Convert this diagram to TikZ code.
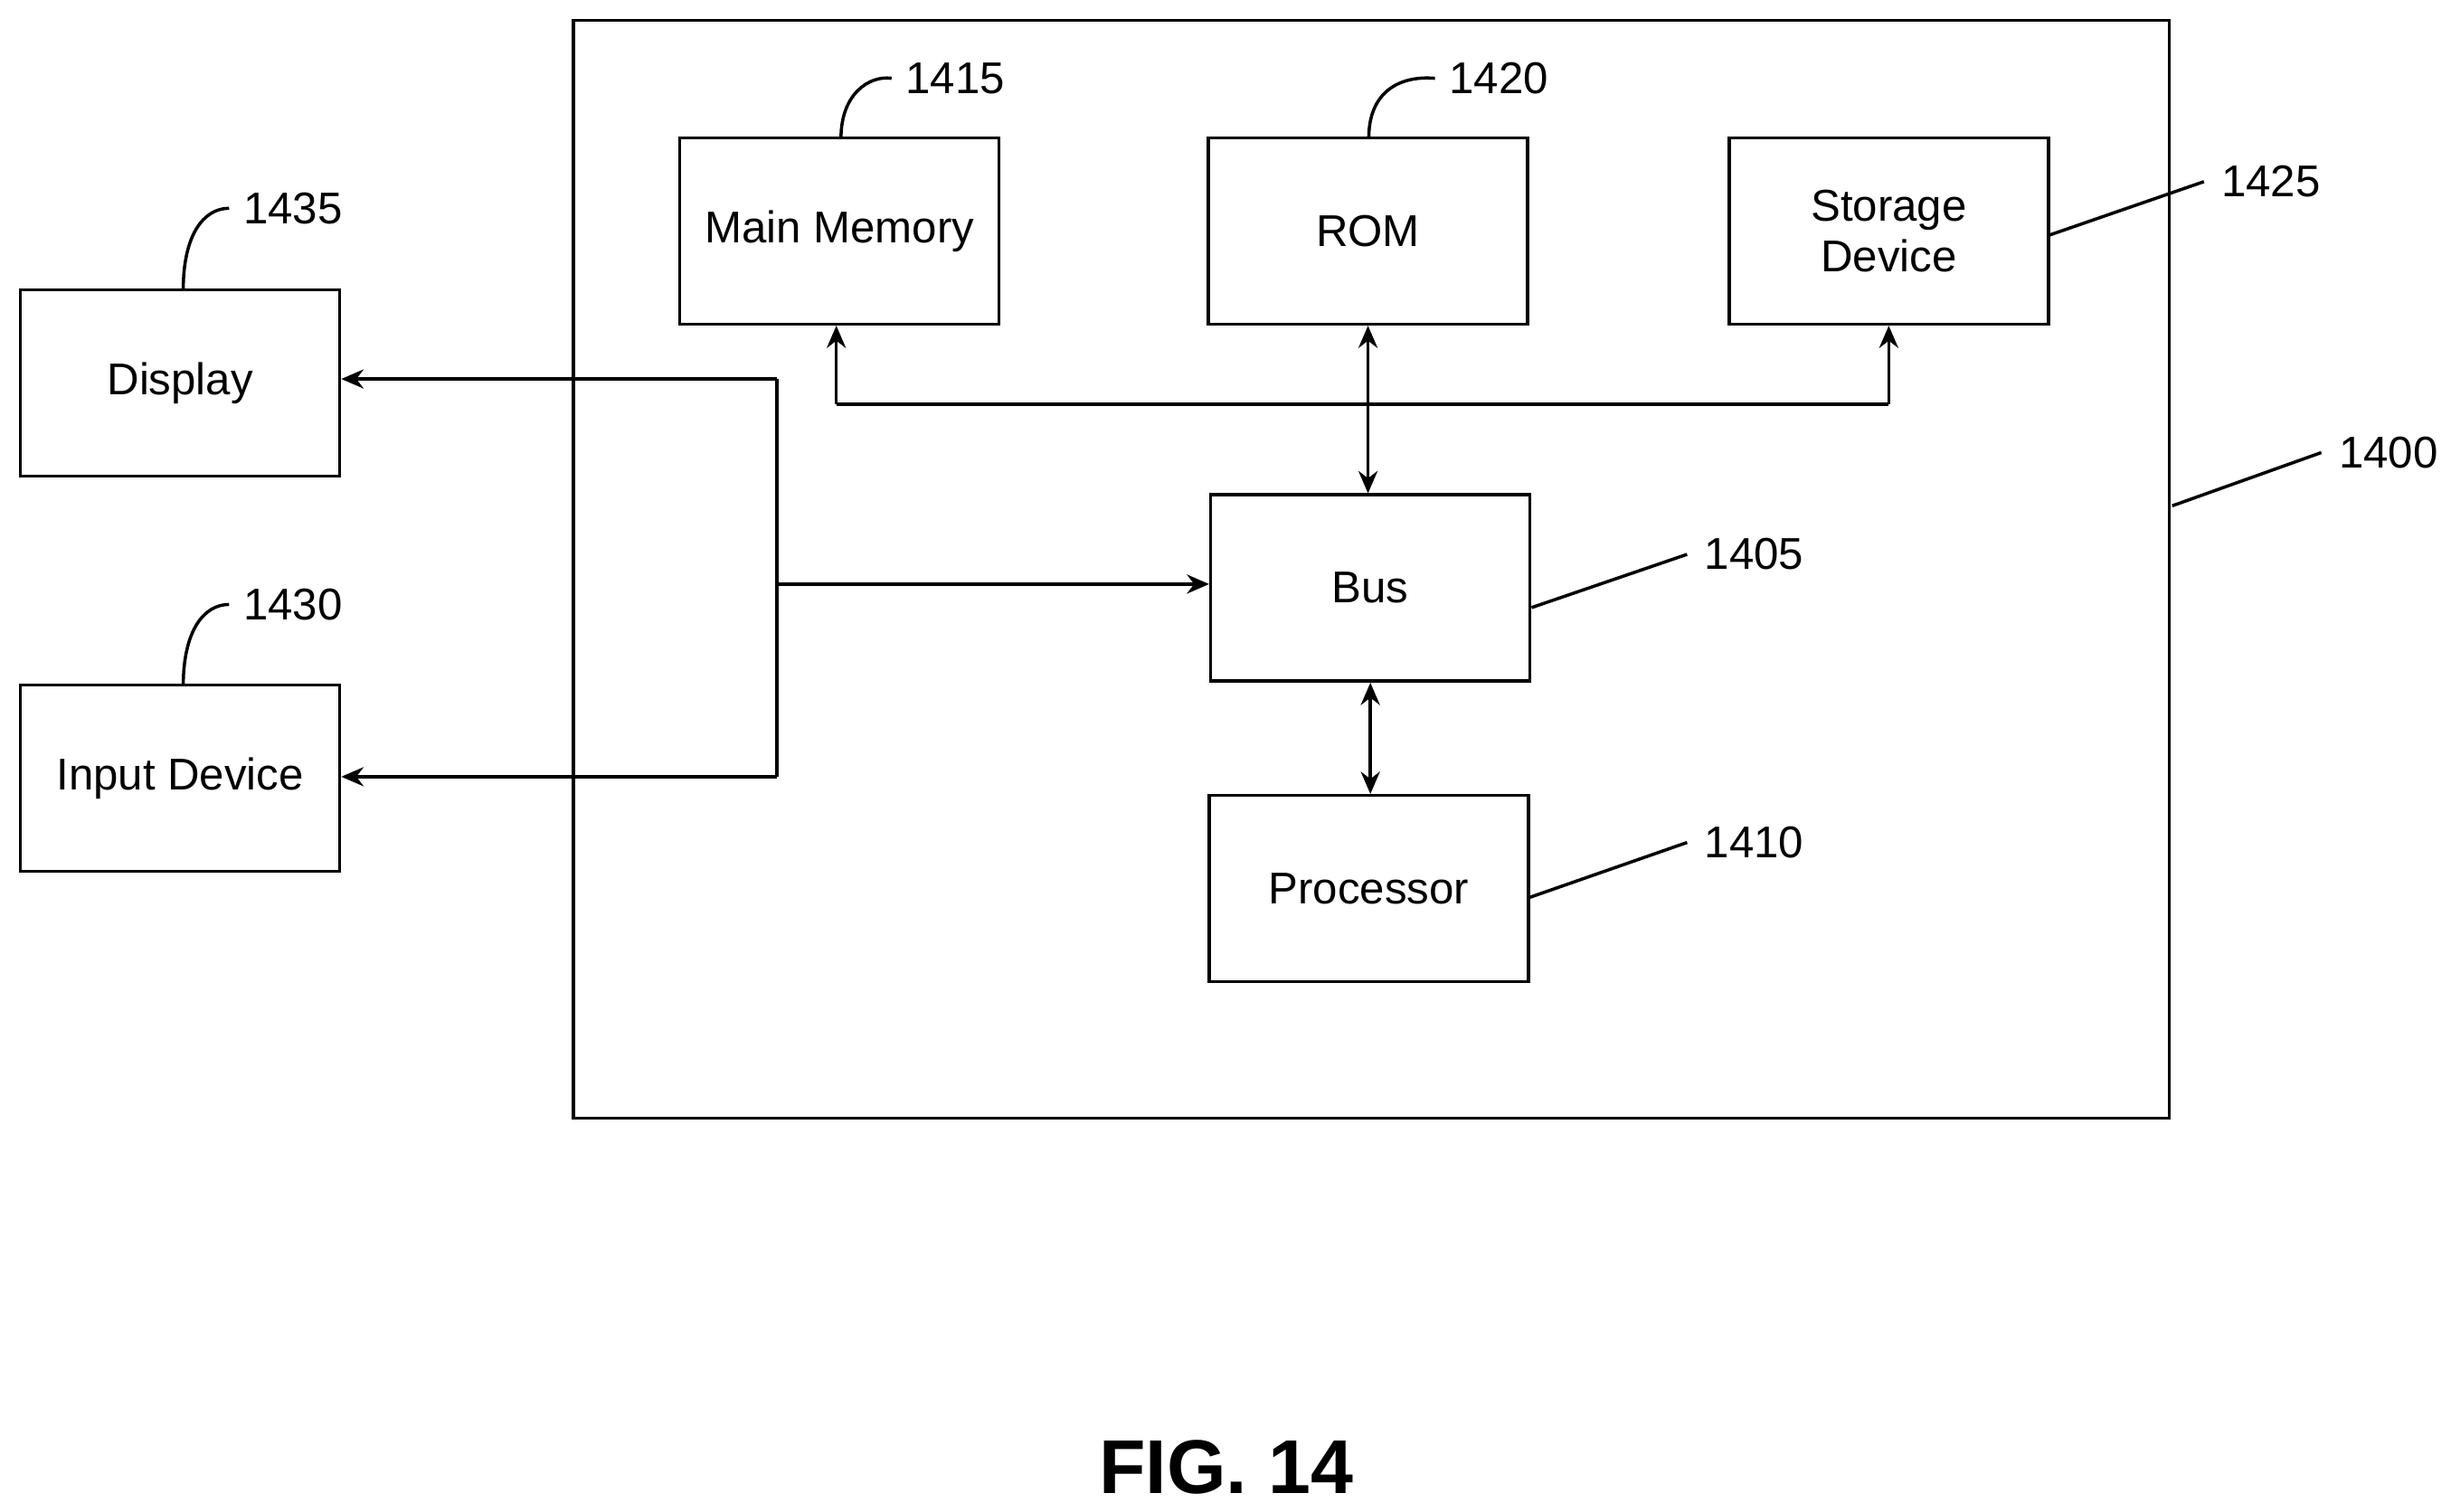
\documentclass[tikz,border=0pt]{standalone}
\usepackage{fontspec}
\setmainfont{Liberation Sans}
\usepackage{tikz}
\usetikzlibrary{arrows.meta}
\tikzset{box/.style={draw,line width=1pt,minimum width=3.53cm,minimum height=2.06cm,inner sep=0pt,align=center,font=\fontsize{14}{16}\selectfont},
	num/.style={font=\fontsize{14}{16}\selectfont,inner sep=1pt}}
\begin{document}
\begin{tikzpicture}[>={Stealth[length=7pt,width=6pt]},x=0.01732cm,y=-0.01732cm,line width=1pt]
			\useasboundingbox (0,0) rectangle (1565,965);
			\draw (366,13) rectangle (1385,714);
			\node[box] (mem) at (536,147.5) {Main Memory};
			\node[box] (rom) at (873.5,147.5) {ROM};
			\node[box] (sto) at (1206,147.5) {Storage\\Device};
			\node[box] (bus) at (875,375.5) {Bus};
			\node[box] (cpu) at (874,567.5) {Processor};
			\node[box] (dsp) at (115,244.5) {Display};
			\node[box] (inp) at (115,497) {Input Device};
			% bus lines
			\coordinate (jl) at (534,258);
			\coordinate (jr) at (1206,258);
			\draw[->] (jl) -- (mem.south -| jl);
			\draw[->] (jr) -- (sto.south -| jr);
			\draw (jl) -- (jr);
			\draw[<->] (rom.south) -- (rom.south |- bus.north);
			\draw[<->] (bus.south) -- (bus.south |- cpu.north);
			\coordinate (vt) at (496,242);
			\coordinate (vb) at (496,496);
			\draw[->] (vt) -- (dsp.east |- vt);
			\draw[->] (vb) -- (inp.east |- vb);
			\draw (vt) -- (vb);
			\draw[->] (496,373) -- (bus.west |- 0,373);
			% reference numbers
			\node[num] (n1415) at (610,50) {1415};
			\node[num] (n1420) at (957,50) {1420};
			\node[num] (n1425) at (1450,116) {1425};
			\node[num] (n1435) at (187,133) {1435};
			\node[num] (n1430) at (187,386) {1430};
			\node[num] (n1405) at (1120,354) {1405};
			\node[num] (n1410) at (1120,538) {1410};
			\node[num] (n1400) at (1525,289) {1400};
			\draw (537,88) .. controls (537,60) and (555,48) .. ([xshift=-3pt]n1415.west);
			\draw (874,88) .. controls (874,60) and (892,48) .. ([xshift=-3pt]n1420.west);
			\draw (117,185) .. controls (117,150) and (130,133) .. ([xshift=-3pt]n1435.west);
			\draw (117,438) .. controls (117,403) and (130,386) .. ([xshift=-3pt]n1430.west);
			\draw (sto.east |- 0,150) -- ([xshift=-4pt]n1425.west);
			\draw (bus.east |- 0,388) -- ([xshift=-4pt]n1405.west);
			\draw (cpu.east |- 0,573) -- ([xshift=-4pt]n1410.west);
			\draw (1387,323) -- ([xshift=-4pt]n1400.west);
			\node[font=\fontsize{24}{28}\selectfont\bfseries] (fig) at (783,937) {FIG. 14};
		\end{tikzpicture}
\end{document}
